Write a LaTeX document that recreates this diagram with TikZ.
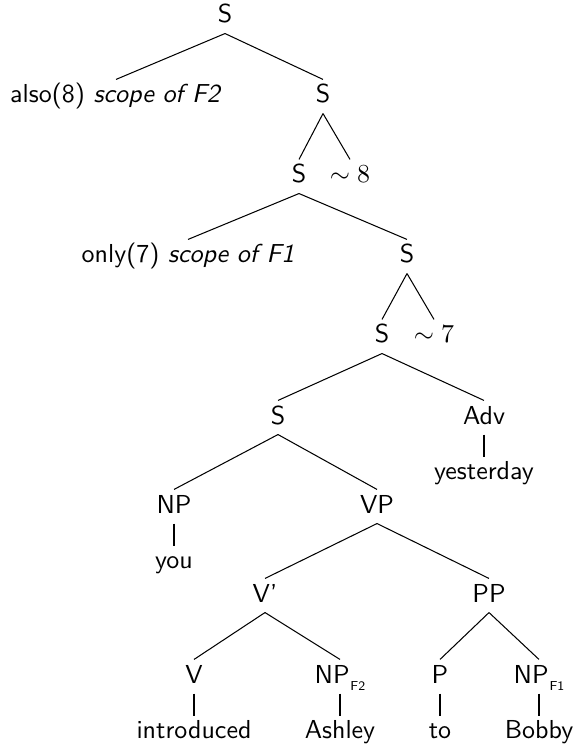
\documentclass[tikz,border=0pt]{standalone}
\begin{document}
\begin{tikzpicture}[x=0.385pt,y=-0.385pt,font=\sffamily,
  tn/.style={anchor=base,inner xsep=0pt,inner ysep=1.93pt,text height=6.94pt,text depth=1.93pt},
  lf/.style={anchor=base,inner xsep=0pt,inner ysep=1.2pt,text height=6.94pt,text depth=1.94pt},
  edge/.style={line width=0.4pt},
  bar/.style={line width=1pt}]
\useasboundingbox (0,0) rectangle (574,746);
% categories
\node[tn] (s0) at (225,23) {S};
\node[tn] (also) at (116,103) {also(8) \textit{scope of F2}};
\node[tn] (s1) at (323,103) {S};
\node[tn] (s2) at (299,183) {S};
\node[tn] (t8) at (350,183) {$\sim 8$};
\node[tn] (only) at (188,263) {only(7) \textit{scope of F1}};
\node[tn] (s3) at (407,263) {S};
\node[tn] (s4) at (382,343) {S};
\node[tn] (t7) at (434,343) {$\sim 7$};
\node[tn] (s5) at (278,424) {S};
\node[tn] (adv) at (484,424) {Adv};
\node[lf] (yest) at (484,479) {yesterday};
\node[tn] (np) at (174,513) {NP};
\node[tn] (vp) at (377,513) {VP};
\node[lf] (you) at (174,568) {you};
\node[tn] (vbar) at (265,602) {V'};
\node[tn] (pp) at (489,602) {PP};
\node[tn] (v) at (194,683) {V};
\node[tn] (npf2) at (340,683) {NP\kern0.3pt\raisebox{-2.7pt}{\tiny F2}};
\node[tn] (p) at (440,683) {P};
\node[tn] (npf1) at (539,683) {NP\kern0.3pt\raisebox{-2.7pt}{\tiny F1}};
% leaves
\node[lf] (intro) at (194,738) {introduced};
\node[lf] (ashley) at (340,738) {Ashley};
\node[lf] (to) at (440,738) {to};
\node[lf] (bobby) at (539,738) {Bobby};
% edges
\draw[edge] (s0.south) -- (also.north);
\draw[edge] (s0.south) -- (s1.north);
\draw[edge] (s1.south) -- (s2.north);
\draw[edge] (s1.south) -- (t8.north);
\draw[edge] (s2.south) -- (only.north);
\draw[edge] (s2.south) -- (s3.north);
\draw[edge] (s3.south) -- (s4.north);
\draw[edge] (s3.south) -- (t7.north);
\draw[edge] (s4.south) -- (s5.north);
\draw[edge] (s4.south) -- (adv.north);
\draw[edge] (s5.south) -- (np.north);
\draw[edge] (s5.south) -- (vp.north);
\draw[edge] (vp.south) -- (vbar.north);
\draw[edge] (vp.south) -- (pp.north);
\draw[edge] (vbar.south) -- (v.north);
\draw[edge] (vbar.south) -- (npf2.north);
\draw[edge] (pp.south) -- (p.north);
\draw[edge] (pp.south) -- (npf1.north);
% bars
\draw[bar] (adv.south) -- (yest.north);
\draw[bar] (np.south) -- (you.north);
\draw[bar] (v.south) -- (intro.north);
\draw[bar] (npf2.south) -- (ashley.north);
\draw[bar] (p.south) -- (to.north);
\draw[bar] (npf1.south) -- (bobby.north);
\end{tikzpicture}
\end{document}
